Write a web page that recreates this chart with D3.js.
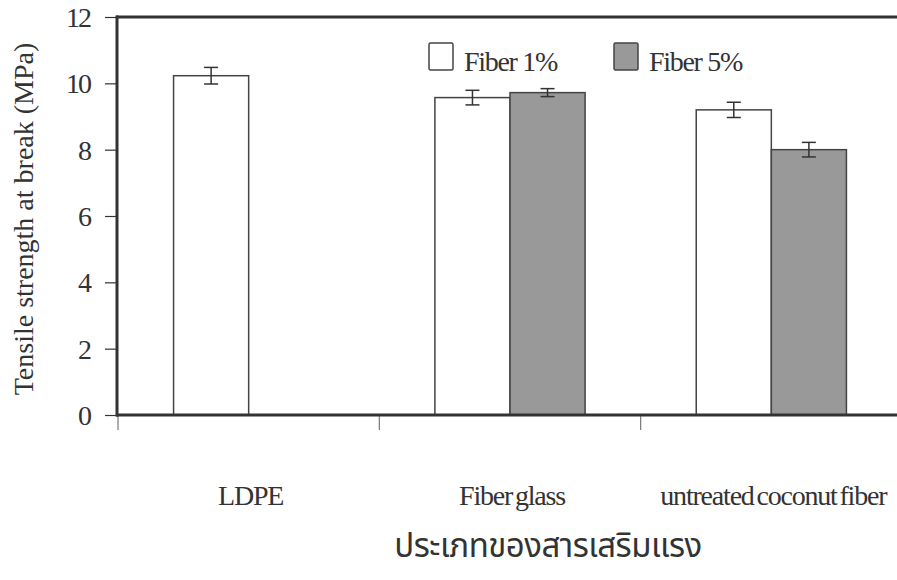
<!DOCTYPE html>
<html>
<head>
<meta charset="utf-8">
<script src="https://cdn.jsdelivr.net/npm/d3@7"></script>
<style>
body { margin: 0; background: #fff; }
text { font-family: "Liberation Serif", "Times New Roman", serif; fill: #333; }
</style>
</head>
<body>
<div id="chart"></div>
<script>
//Data
const categories = ["LDPE", "Fiber glass", "untreated coconut fiber"];
const series = ["Fiber 1%", "Fiber 5%"];
const fiber1 = [10.23, 9.57, 9.2];
const fiber5 = [null, 9.72, 8.0];
const err1 = [0.25, 0.22, 0.23];
const err5 = [null, 0.12, 0.22];
const yTicks = [0, 2, 4, 6, 8, 10, 12];
const yTitle = "Tensile strength at break (MPa)";
const xTitle = "ประเภทของสารเสริมแรง";

const width = 897, height = 580;
const fills = ["#ffffff", "#999999"];

let svg = d3.select("#chart").append("svg")
	.attr("width", width)
	.attr("height", height);

let x0 = d3.scaleBand().domain(categories).range([118, 902]);
let x1 = d3.scaleBand().domain(series).range([0, x0.bandwidth()]).paddingOuter(0.74);
let y = d3.scaleLinear().domain([0, 12]).range([415, 17]);

//flatten to rows
let rows = [];
categories.forEach(function(c, i) {
	if (fiber1[i] != null) rows.push({cat: c, s: series[0], v: fiber1[i], e: err1[i], k: 0});
	if (fiber5[i] != null) rows.push({cat: c, s: series[1], v: fiber5[i], e: err5[i], k: 1});
});

//bars
svg.selectAll("rect.bar")
	.data(rows)
	.enter()
	.append("rect")
	.attr("class", "bar")
	.attr("x", d => x0(d.cat) + x1(d.s))
	.attr("y", d => y(d.v))
	.attr("width", x1.bandwidth())
	.attr("height", d => y(0) - y(d.v))
	.style("fill", d => fills[d.k])
	.style("stroke", "#444")
	.style("stroke-width", 1.5);

//error bars
let eb = svg.selectAll("g.err")
	.data(rows)
	.enter()
	.append("g")
	.attr("class", "err")
	.style("stroke", "#333")
	.style("stroke-width", 1.5);
eb.append("line")
	.attr("x1", d => x0(d.cat) + x1(d.s) + x1.bandwidth() / 2)
	.attr("x2", d => x0(d.cat) + x1(d.s) + x1.bandwidth() / 2)
	.attr("y1", d => y(d.v + d.e))
	.attr("y2", d => y(d.v - d.e));
[1, -1].forEach(function(sg) {
	eb.append("line")
		.attr("x1", d => x0(d.cat) + x1(d.s) + x1.bandwidth() / 2 - 7)
		.attr("x2", d => x0(d.cat) + x1(d.s) + x1.bandwidth() / 2 + 7)
		.attr("y1", d => y(d.v + sg * d.e))
		.attr("y2", d => y(d.v + sg * d.e));
});

//y axis
let yAxis = svg.append("g")
	.attr("transform", "translate(117,0)")
	.call(d3.axisLeft(y).tickValues(yTicks).tickSize(12).tickPadding(15));
yAxis.select(".domain").remove();
yAxis.selectAll(".tick line").style("stroke", "#333").style("stroke-width", 1.2);
yAxis.selectAll(".tick text")
	.style("font-family", "'Liberation Serif', serif")
	.style("font-size", "28px")
	.style("letter-spacing", "-2px")
	.style("fill", "#333")
	.attr("dy", "0.34em");

//x axis ticks (category boundaries)
let xAxis = svg.append("g")
	.attr("transform", "translate(0,415)");
xAxis.selectAll("line")
	.data(categories)
	.enter()
	.append("line")
	.attr("x1", d => x0(d))
	.attr("x2", d => x0(d))
	.attr("y1", 0)
	.attr("y2", 15)
	.style("stroke", "#777")
	.style("stroke-width", 1.2);
xAxis.selectAll("text")
	.data(categories)
	.enter()
	.append("text")
	.attr("x", d => x0(d) + x0.bandwidth() / 2 + 2)
	.attr("y", 90)
	.attr("text-anchor", "middle")
	.style("font-size", "28px")
	.style("letter-spacing", "-1.2px")
	.style("word-spacing", "-3px")
	.text(d => d);

//frame lines
svg.append("line").attr("x1", 117).attr("x2", 117).attr("y1", 15.5).attr("y2", 416.5)
	.style("stroke", "#333").style("stroke-width", 3);
svg.append("line").attr("x1", 116).attr("x2", width).attr("y1", y(12)).attr("y2", y(12))
	.style("stroke", "#333").style("stroke-width", 3);
svg.append("line").attr("x1", 116).attr("x2", width).attr("y1", y(0)).attr("y2", y(0))
	.style("stroke", "#333").style("stroke-width", 3);

//legend
let legend = svg.append("g").attr("transform", "translate(429,43)");
let lg = legend.selectAll("g")
	.data(series)
	.enter()
	.append("g")
	.attr("transform", (d, i) => "translate(" + (i * 185) + ",0)");
lg.append("rect")
	.attr("width", 24)
	.attr("height", 27)
	.attr("rx", 1.5)
	.style("fill", (d, i) => fills[i])
	.style("stroke", "#444")
	.style("stroke-width", 1.5);
lg.append("text")
	.attr("x", 35)
	.attr("y", 28)
	.style("font-size", "28px")
	.style("letter-spacing", "-1.3px")
	.text(d => d);

//titles
svg.append("text")
	.attr("transform", "translate(33,219) rotate(-90)")
	.attr("text-anchor", "middle")
	.style("font-size", "28px")
	.text(yTitle);
svg.append("text")
	.attr("x", 548)
	.attr("y", 557)
	.attr("text-anchor", "middle")
	.style("font-family", "'Noto Sans Thai', 'Noto Sans', 'DejaVu Sans', sans-serif")
	.style("font-size", "33px")
	.style("letter-spacing", "-0.5px")
	.text(xTitle);
</script>
</body>
</html>
